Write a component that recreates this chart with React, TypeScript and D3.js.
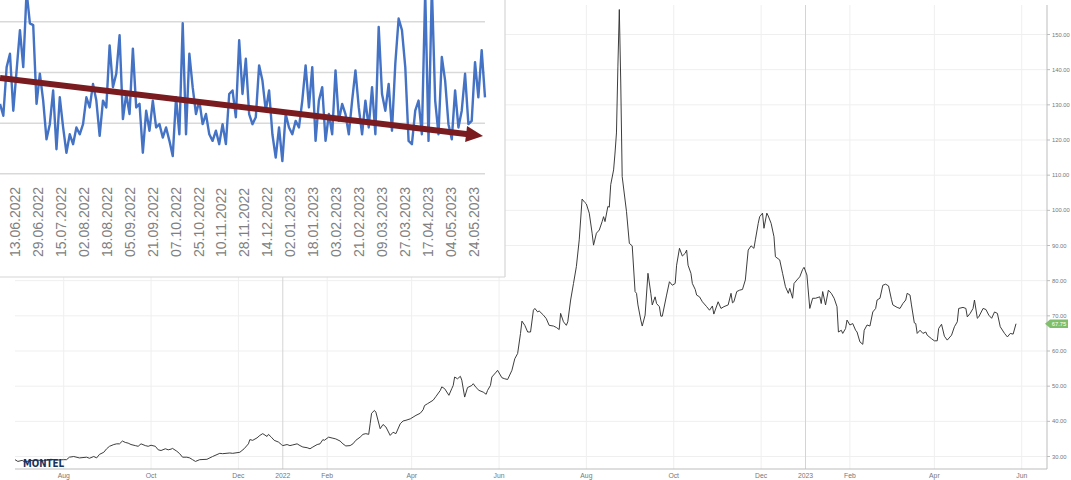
import React from "react";
import * as d3 from "d3";

const W = 1071;
const H = 480;

// ---------- main chart data ----------
const START = "2021-06-28";
const END = "2023-05-28";
// [days since START, price]
const PRICE: [number, number][] = [
  [0,29.1],[2,28.6],[5,28.9],[7,28.4],[10,28.8],[15,29.0],[20,28.8],[25,29.2],[30,29.0],[34,29.1],[36,29.1],[38,29.8],[41,30.0],[45,29.6],[50,29.8],[52,29.5],[55,30.0],[57,29.6],[59,30.6],[62,31.2],[64,32.2],[66,32.9],[69,33.4],[71,33.6],[73,33.6],[75,34.4],[77,34.0],[79,33.8],[81,33.4],[84,33.1],[86,32.9],[88,33.6],[91,33.1],[93,32.9],[95,33.2],[98,32.9],[100,31.9],[102,31.7],[105,32.2],[107,31.9],[109,32.1],[110,32.3],[113,31.5],[115,30.8],[117,29.8],[120,29.8],[122,29.6],[124,29.1],[126,28.6],[129,29.1],[134,29.2],[138,30.0],[143,30.9],[145,30.8],[150,31.0],[152,30.9],[157,31.2],[160,32.2],[163,33.6],[164,34.8],[166,34.6],[169,35.3],[171,36.0],[173,36.5],[176,35.7],[177,36.3],[179,35.5],[181,34.6],[184,34.1],[186,33.4],
  [187,33.1],[190,33.4],[192,33.1],[194,33.3],[197,33.6],[199,33.1],[201,32.7],[204,32.5],[206,32.2],[208,32.7],[211,33.4],[213,33.6],[215,34.8],[216,34.6],[219,35.5],[222,35.2],[224,35.0],[227,34.4],[229,33.6],[231,33.0],[234,33.1],[236,33.6],[238,34.6],[241,35.5],[243,36.3],[245,36.5],[247,36.3],[248,39.3],[249,42.3],[251,43.1],[252,42.6],[255,37.9],[257,39.1],[259,38.4],[262,36.0],[264,36.9],[266,36.5],[269,39.3],[271,40.1],[273,40.3],[276,40.7],[278,41.2],[280,41.7],[283,42.3],[285,43.3],[286,44.5],[288,45.0],[292,46.0],[294,47.1],[297,48.8],[298,49.8],[300,49.3],[303,47.4],[305,49.3],[306,50.2],[307,52.6],[309,52.1],[311,52.8],[312,51.7],[314,46.9],[316,49.6],[319,50.2],[320,50.7],[322,49.6],[324,48.8],[327,48.3],[329,47.7],[330,48.8],[332,50.2],[333,52.6],[336,54.0],[337,54.5],[340,52.4],[342,52.1],[344,51.9],[347,54.5],[349,57.8],[351,59.3],[353,65.0],[354,68.5],[356,67.3],[358,65.4],[360,65.4],[362,71.6],[363,72.1],[365,71.1],[366,71.4],
  [369,70.2],[371,69.2],[373,67.3],[376,67.1],[378,66.7],[380,66.1],[381,70.7],[383,68.3],[385,67.3],[386,68.3],[388,74.5],[390,79.2],[392,84.0],[394,91.6],[396,103.2],[398,102.2],[399,101.8],[401,99.2],[403,93.5],[404,90.1],[406,93.5],[408,94.4],[410,96.8],[411,98.2],[412,96.8],[414,101.1],[415,100.9],[416,107.3],[418,111.5],[419,116.3],[420,122.0],[421,141.0],[422,157.1],[423,136.2],[424,109.6],
  [427,99.7],[429,90.6],[431,89.9],[433,76.9],[434,76.4],[435,73.1],[437,68.8],[438,67.1],[440,70.2],[442,82.1],[444,76.4],[445,73.1],[447,75.4],[448,73.5],[450,72.6],[451,69.9],[452,69.9],[455,75.9],[457,79.7],[459,78.7],[461,79.2],[462,84.4],[464,89.2],[466,87.0],[468,87.8],[469,88.7],[470,84.4],[472,82.1],[473,79.2],[475,77.5],[476,75.9],[478,75.4],[480,74.0],[483,72.6],[485,71.6],[487,72.8],[488,70.5],[491,74.0],[493,72.1],[495,72.6],[498,73.1],[500,76.4],[501,73.7],[502,74.0],[504,76.9],[506,77.3],[508,77.5],[510,80.2],[512,88.7],[514,89.9],[516,89.2],[517,91.6],[519,96.3],[520,98.2],[522,99.2],[523,94.9],[525,99.2],[526,98.4],[528,96.3],[530,92.5],[531,86.8],[534,85.9],[536,82.1],[538,78.3],[540,76.4],[541,77.8],[543,75.0],[544,79.2],[546,80.2],[548,81.1],[550,83.2],[551,83.8],[553,81.6],[555,72.1],[557,75.0],[559,75.0],[562,75.4],[563,73.5],[564,76.9],[566,73.1],[568,77.3],[570,76.4],[572,75.0],[574,72.6],[575,65.4],[577,65.9],[578,65.0],[580,66.4],[581,68.8],[583,67.4],[585,67.8],[587,65.9],[588,65.4],[590,62.6],[592,61.9],[593,65.9],[595,67.4],[597,67.1],[599,71.1],[601,72.1],[602,74.5],[604,75.0],[606,78.7],[608,79.0],[610,78.5],[612,74.7],[613,73.1],[616,72.4],[618,72.1],[620,73.5],[622,74.5],[623,76.4],[625,75.9],[626,73.1],[628,68.0],[629,67.8],[630,65.0],[632,65.9],[634,65.0],[636,65.4],[637,64.5],[640,63.5],[642,62.9],[644,62.9],[645,66.4],[647,67.6],[649,64.2],[651,63.1],[654,64.5],[656,66.9],[658,68.3],[659,72.1],[662,72.4],[664,72.1],[665,69.7],[667,70.7],[669,72.1],[670,74.5],[672,69.3],[673,69.7],[676,72.1],[678,71.8],[680,70.2],[682,69.3],[684,71.1],[686,70.7],[688,66.9],[691,65.0],[693,64.0],[695,65.0],[697,64.8],[699,67.75]
];
const Y_TICKS = [30, 40, 50, 60, 70, 80, 90, 100, 110, 120, 130, 140, 150];
const X_TICKS = [
  "2021-08-01","2021-10-01","2021-12-01","2022-01-01","2022-02-01","2022-04-01",
  "2022-06-01","2022-08-01","2022-10-01","2022-12-01","2023-01-01","2023-02-01",
  "2023-04-01","2023-06-01"
];
const LAST_PRICE_LABEL = "67.75";
const LOGO_TEXT = "MONTEL";

// ---------- inset chart data ----------
const INSET_VALUES = [
  27.6,22.9,42.1,47.4,24.9,40.8,56.7,42.1,72,59.4,58.7,27.6,39.5,28.9,13.6,19.6,32.9,9.7,30.2,18.3,
  8.3,15.6,11.7,18.3,15.6,19.6,30.2,26.2,35.5,28.9,15.0,28.9,26.2,50.7,34.2,39.5,54.7,21.6,31.5,23.6,
  49.4,26.2,27.6,8.3,24.9,17.0,28.9,18.3,19.6,14.3,18.3,13.0,7.0,30.2,15.6,59.4,15.6,47.4,34.2,23.6,
  28.9,19.6,23.6,15.6,13.0,17.0,11.7,19.6,11.7,31.5,32.9,22.3,52.7,31.5,45.4,23.6,19.6,22.3,42.8,36.8,
  24.9,32.9,15.6,6.4,18.3,5.0,23.6,18.3,15.6,20.9,18.3,28.9,42.8,26.2,42.1,13.0,28.9,34.2,13.0,23.6,
  15.6,40.8,20.9,27.6,23.6,15.6,28.9,40.8,26.2,15.6,28.9,18.3,34.2,15.6,58.0,31.5,24.9,35.5,17.0,43.5,
  61.3,56.7,42.1,13.0,11.7,24.9,28.9,15.6,72,13.0,74,28.9,15.6,46.1,36.8,19.6,13.6,32.9,18.3,24.9,
  39.5,19.6,20.9,44.1,30.2,48.8,30.2
];
const INSET_LABELS = [
  "13.06.2022","29.06.2022","15.07.2022","02.08.2022","18.08.2022","05.09.2022","21.09.2022",
  "07.10.2022","25.10.2022","10.11.2022","28.11.2022","14.12.2022","02.01.2023","18.01.2023",
  "03.02.2023","21.02.2023","09.03.2023","27.03.2023","17.04.2023","04.05.2023","24.05.2023"
];
const INSET_GRID = [0, 20, 40, 60];
const INSET_TREND = [37.8, 14.9];

const FONT = "'Liberation Sans', Arial, sans-serif";

export default function App() {
  const parse = d3.timeParse("%Y-%m-%d");
  const start = parse(START) as Date;
  const end = parse(END) as Date;

  // main scales
  const x = d3.scaleTime().domain([start, end]).range([15, 1016]);
  const y = d3.scaleLinear().domain([30, 150]).range([456.5, 34.5]);
  const plotLeft = 15;
  const plotRight = 1047;
  const plotTop = 5;
  const plotBottom = 469;

  const line = d3
    .line<[number, number]>()
    .x((d) => x(d3.timeDay.offset(start, d[0])))
    .y((d) => y(d[1]))
    .curve(d3.curveLinear);

  const ticks = X_TICKS.map((s) => parse(s) as Date);
  const fmtMonth = d3.timeFormat("%b");
  const fmtYear = d3.timeFormat("%Y");

  const last = PRICE[PRICE.length - 1];
  const lastY = y(last[1]);

  // inset scales
  const insetW = 505;
  const insetH = 277;
  const ix = d3.scaleLinear().domain([0, INSET_VALUES.length - 1]).range([0, 485]);
  const iy = d3.scaleLinear().domain([0, 60]).range([173.8, 21.8]);
  const ilabel = d3.scalePoint<string>().domain(INSET_LABELS).range([15, 474]);
  const iline = d3
    .line<number>()
    .x((_, i) => ix(i))
    .y((d) => iy(d));

  // trend arrow
  const ax0 = ix(0);
  const ay0 = iy(INSET_TREND[0]);
  const ax1 = ix(INSET_VALUES.length - 1) - 2;
  const ay1 = iy(INSET_TREND[1]);
  const ang = Math.atan2(ay1 - ay0, ax1 - ax0);
  const headL = 17;
  const headW = 8;
  const bx = ax1 - headL * Math.cos(ang);
  const by = ay1 - headL * Math.sin(ang);
  const px = -Math.sin(ang);
  const py = Math.cos(ang);
  const head = `${ax1},${ay1} ${bx + px * headW},${by + py * headW} ${bx - px * headW},${by - py * headW}`;

  return (
    <svg
      width={W}
      height={H}
      style={{ position: "absolute", left: 0, top: 0, background: "#fff" }}
      fontFamily={FONT}
    >
      <rect x={0} y={0} width={W} height={H} fill="#fff" />
      {/* horizontal grid */}
      {Y_TICKS.map((t) => (
        <line key={"hg" + t} x1={plotLeft} x2={plotRight} y1={y(t)} y2={y(t)} stroke="#efefef" strokeWidth={1} />
      ))}
      {/* vertical grid */}
      {ticks.map((t, i) => (
        <line
          key={"vg" + i}
          x1={x(t)}
          x2={x(t)}
          y1={plotTop}
          y2={plotBottom}
          stroke={t.getMonth() === 0 ? "#d4d4d4" : "#efefef"}
          strokeWidth={1}
        />
      ))}
      {/* axes */}
      <line x1={plotLeft} x2={plotRight} y1={plotBottom} y2={plotBottom} stroke="#bdbdbd" strokeWidth={1} />
      <line x1={plotRight} x2={plotRight} y1={plotTop} y2={plotBottom} stroke="#bdbdbd" strokeWidth={1} />
      {Y_TICKS.map((t) => (
        <g key={"yt" + t}>
          <line x1={plotRight} x2={plotRight + 3} y1={y(t)} y2={y(t)} stroke="#bdbdbd" />
          <text x={plotRight + 5} y={y(t)} dy="0.35em" fontSize={5.8} fill="#777">
            {t.toFixed(2)}
          </text>
        </g>
      ))}
      {ticks.map((t, i) => (
        <text key={"xt" + i} x={x(t)} y={478} textAnchor="middle" fontSize={6.8} fill="#777">
          {t.getMonth() === 0 ? fmtYear(t) : fmtMonth(t)}
        </text>
      ))}

      {/* price line */}
      <path d={line(PRICE) || ""} fill="none" stroke="#333" strokeWidth={0.95} strokeLinejoin="round" />

      {/* last price tag */}
      <path
        d={`M${plotRight - 2},${lastY} L${plotRight + 3},${lastY - 4.2} L${plotRight + 21},${lastY - 4.2} L${plotRight + 21},${lastY + 4.2} L${plotRight + 3},${lastY + 4.2} Z`}
        fill="#7fbf6c"
      />
      <text x={plotRight + 12} y={lastY} dy="0.35em" textAnchor="middle" fontSize={5.8} fill="#fff">
        {LAST_PRICE_LABEL}
      </text>

      {/* logo */}
      <text
        x={23}
        y={467}
        fontSize={11}
        fontWeight={900}
        fill="#17325c"
        fontFamily="'DejaVu Sans', sans-serif"
        textLength={41}
        lengthAdjust="spacingAndGlyphs"
      >
        {LOGO_TEXT}
      </text>

      {/* inset */}
      <defs>
        <clipPath id="insetClip">
          <rect x={0} y={0} width={insetW} height={insetH} />
        </clipPath>
      </defs>
      <g>
        <rect x={0} y={0} width={insetW} height={insetH} fill="#fff" />
        <line x1={insetW} x2={insetW} y1={0} y2={insetH} stroke="#d6d6d6" strokeWidth={1.2} />
        <line x1={0} x2={insetW} y1={insetH} y2={insetH} stroke="#d6d6d6" strokeWidth={1.2} />
        {INSET_GRID.map((g) => (
          <line key={"ig" + g} x1={0} x2={485} y1={iy(g)} y2={iy(g)} stroke="#d9d9d9" strokeWidth={1.5} />
        ))}
        <g clipPath="url(#insetClip)">
          <path
            d={iline(INSET_VALUES) || ""}
            fill="none"
            stroke="#4472c4"
            strokeWidth={2.4}
            strokeLinejoin="round"
          />
          <line x1={ax0} y1={ay0} x2={bx + 2 * Math.cos(ang)} y2={by + 2 * Math.sin(ang)} stroke="#7a1c1f" strokeWidth={6} />
          <polygon points={head} fill="#7a1c1f" />
        </g>
        {INSET_LABELS.map((l) => (
          <text
            key={l}
            transform={`translate(${ilabel(l)},257) rotate(-90)`}
            dy="0.35em"
            fontSize={14}
            fill="#808080"
          >
            {l}
          </text>
        ))}
      </g>
    </svg>
  );
}
